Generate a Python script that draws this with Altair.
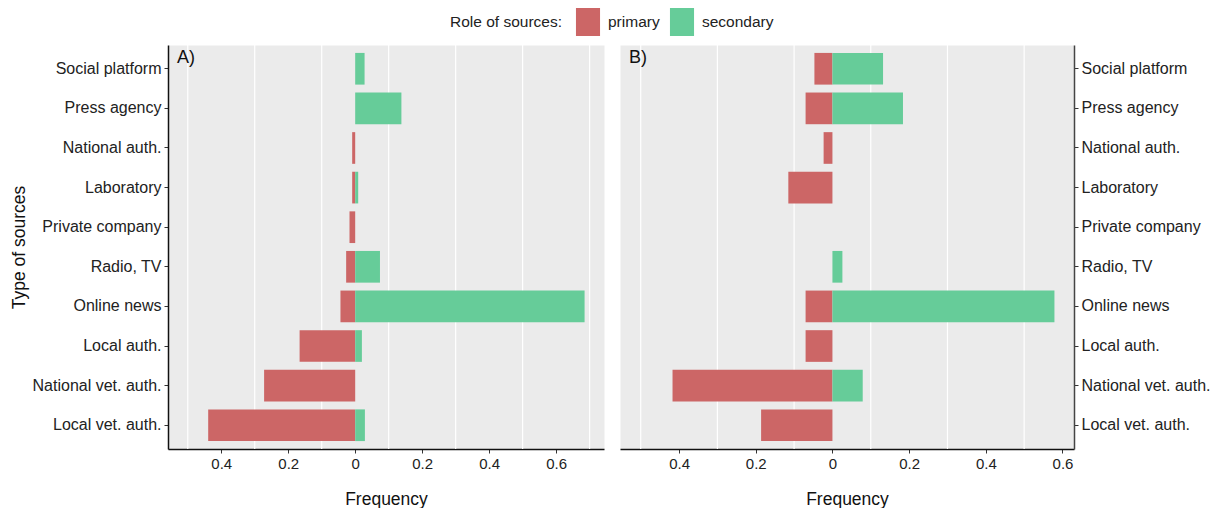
import altair as alt
import pandas as pd

# ---- data ----
sources = ["Social platform", "Press agency", "National auth.", "Laboratory",
           "Private company", "Radio, TV", "Online news", "Local auth.",
           "National vet. auth.", "Local vet. auth."]
a_primary = [0.0, 0.0, 0.009, 0.009, 0.017, 0.027, 0.044, 0.166, 0.272, 0.439]
a_secondary = [0.028, 0.138, 0.0, 0.009, 0.0, 0.074, 0.685, 0.020, 0.0, 0.029]
b_primary = [0.047, 0.070, 0.023, 0.115, 0.0, 0.0, 0.070, 0.070, 0.417, 0.186]
b_secondary = [0.132, 0.184, 0.0, 0.0, 0.0, 0.026, 0.579, 0.0, 0.079, 0.0]
roles = ["primary", "secondary"]
role_colors = ["#CC6666", "#66CC99"]
tick_values = [-0.4, -0.2, 0, 0.2, 0.4, 0.6]
grid_values = [-0.5, -0.3, -0.1, 0.1, 0.3, 0.5, 0.7]
panel_labels = ["A)", "B)"]

FONT = "Liberation Sans"


def make_df(primary, secondary):
    rows = []
    for s, p, q in zip(sources, primary, secondary):
        if p > 0:
            rows.append({"source": s, "role": roles[0], "freq": -p})
        if q > 0:
            rows.append({"source": s, "role": roles[1], "freq": q})
    return pd.DataFrame(rows)


def panel(primary, secondary, label, width, domain, y_orient, y_title, y_domain_color):
    xscale = alt.Scale(domain=domain, nice=False, zero=False)
    xaxis = alt.Axis(values=tick_values, labelExpr="format(abs(datum.value), '.1~f')",
                     title="Frequency", grid=False)
    yscale = alt.Scale(domain=sources, paddingInner=0.2, paddingOuter=0.2)
    yaxis = alt.Axis(orient=y_orient, title=y_title, grid=False, domainColor=y_domain_color)

    gd = pd.DataFrame({"g": [g for g in grid_values if domain[0] < g < domain[1]]})
    grid = alt.Chart(gd).mark_rule(color="white", strokeWidth=1.2).encode(
        x=alt.X("g:Q", scale=xscale, axis=xaxis)
    )
    bars = alt.Chart(make_df(primary, secondary)).mark_bar().encode(
        x=alt.X("freq:Q", scale=xscale, axis=xaxis, stack=None),
        x2=alt.datum(0),
        y=alt.Y("source:N", scale=yscale, axis=yaxis, sort=sources),
        color=alt.Color("role:N",
                        scale=alt.Scale(domain=roles, range=role_colors),
                        legend=alt.Legend(title="Role of sources:", orient="none",
                                          legendX=282, legendY=-37,
                                          direction="horizontal", titleOrient="left",
                                          titleAnchor="middle", titleBaseline="middle",
                                          symbolType="M-0.86,-1H0.86V1H-0.86Z",
                                          symbolSize=784, symbolStrokeWidth=0,
                                          symbolOpacity=1,
                                          titlePadding=12, labelOffset=6,
                                          columnPadding=8)),
    )
    txt = alt.Chart(pd.DataFrame({"t": [label]})).mark_text(
        align="left", baseline="middle", fontSize=18, font=FONT, color="#111"
    ).encode(text="t:N", x=alt.value(9), y=alt.value(13))
    return alt.layer(grid, bars, txt).properties(width=width, height=404)


pa = panel(a_primary, a_secondary, panel_labels[0], 436, [-0.559, 0.743], "left",
           "Type of sources", "#111")
pb = panel(b_primary, b_secondary, panel_labels[1], 454, [-0.554, 0.630], "right",
           None, "#444")

chart = alt.hconcat(pa, pb, spacing=14).properties(
    padding={"left": 1, "top": 0, "right": 0, "bottom": 0}
).configure_view(
    fill="#EBEBEB", stroke="transparent"
).configure_axis(
    labelFont=FONT, titleFont=FONT, labelFontSize=16, titleFontSize=17.5,
    labelColor="#222", titleColor="#111", titleFontWeight="normal",
    domainColor="#111", domainWidth=1.5, tickColor="#333", tickSize=4,
    labelPadding=3
).configure_axisX(
    labelFontSize=15, titlePadding=19
).configure_axisY(
    titlePadding=4
).configure_legend(
    labelFont=FONT, titleFont=FONT, labelFontSize=15.5, titleFontSize=15.5,
    titleFontWeight="normal", labelColor="#222", titleColor="#222"
)

chart.save("out.html", embed_options={"renderer": "svg", "actions": False})
